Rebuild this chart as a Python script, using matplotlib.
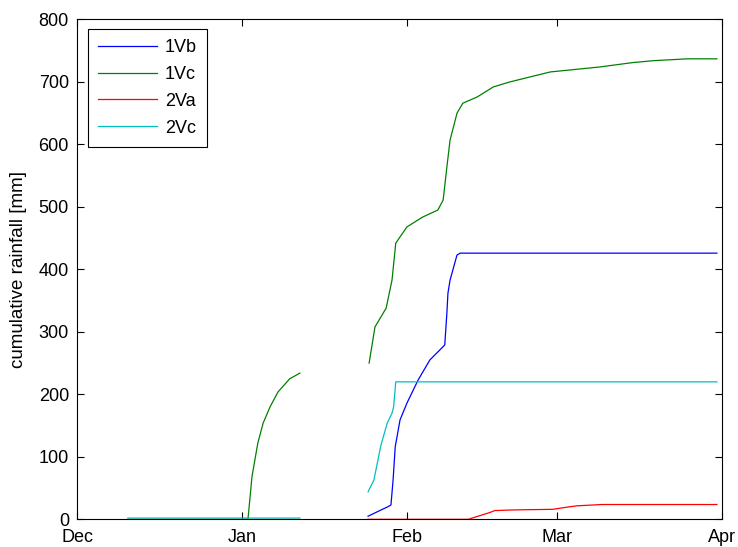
import numpy as np
import matplotlib
matplotlib.use('Agg')
import matplotlib.pyplot as plt

# days since 1 Dec, cumulative rainfall [mm]; NaN splits gaps in the record
day_1vb = [54.6, 56.8, 58.3, 58.9, 59.3, 59.7, 60.6, 61.9, 64.0, 66.2, 69.0,
           69.4, 69.6, 70.0, 71.3, 71.9, 120.1]
rain_1vb = [5, 14, 20, 23, 63, 116, 159, 186, 223, 255, 279,
            330, 362, 383, 423, 426, 426]

day_1vc = [9.5, 32.05, 32.8, 33.9, 34.9, 36.2, 37.7, 39.9, 41.8, 48.0,
           54.8, 55.9, 58.0, 59.1, 59.8, 61.9, 64.9, 67.7, 68.7, 69.4, 70.0,
           71.3, 72.4, 75.1, 78.1, 81.2, 88.8, 98.1, 104.3, 108.1, 114.5, 120.1]
rain_1vc = [0, 0, 68, 122, 154, 180, 204, 225, 234, np.nan,
            250, 308, 338, 383, 442, 468, 484, 495, 511, 564, 607,
            650, 666, 676, 692, 700, 716, 724, 731, 734, 737, 737]

day_2va = [54.6, 73.4, 77.5, 78.4, 81.6, 89.3, 91.6, 93.8, 98.5, 120.1]
rain_2va = [0, 0, 11, 14, 15, 16, 19, 21.6, 23.7, 23.7]

day_2vc = [9.5, 41.8, 48.0, 54.6, 55.7, 57.0, 58.2, 59.1, 59.4, 59.8, 120.1]
rain_2vc = [2, 2, np.nan, 44, 63, 118, 154, 170, 180, 220, 220]

month_days = [0, 31, 62, 90, 121]
month_labels = ['Dec', 'Jan', 'Feb', 'Mar', 'Apr']

plt.rcParams['font.family'] = ['Liberation Sans', 'DejaVu Sans']

fig = plt.figure(figsize=(7.38, 5.47), dpi=100)
ax = fig.add_axes([0.1047, 0.0506, 0.8732, 0.9138])

ax.plot(day_1vb, rain_1vb, color=(0, 0, 1), lw=0.9, label='1Vb')
ax.plot(day_1vc, rain_1vc, color=(0, 0.5, 0), lw=0.9, label='1Vc')
ax.plot(day_2va, rain_2va, color=(1, 0, 0), lw=0.9, label='2Va')
ax.plot(day_2vc, rain_2vc, color=(0, 0.75, 0.75), lw=0.9, label='2Vc')

ax.set_xlim(0, 121)
ax.set_ylim(0, 800)
ax.set_xticks(month_days)
ax.set_xticklabels(month_labels)
ax.set_yticks(range(0, 801, 100))
ax.tick_params(direction='in', top=True, right=True, length=5, width=0.8,
               labelsize=13)
ax.tick_params(axis='y', pad=6)
ax.tick_params(axis='x', pad=7)
for s in ax.spines.values():
    s.set_linewidth(0.8)
ax.set_ylabel('cumulative rainfall [mm]', fontsize=13.5, labelpad=8)

leg = ax.legend(loc='upper left', bbox_to_anchor=(0.1192, 0.947),
                bbox_transform=fig.transFigure, borderaxespad=0,
                fancybox=False, framealpha=1, edgecolor='black',
                fontsize=13, handlelength=3.3, labelspacing=0.55,
                handletextpad=0.4, borderpad=0.55)
leg.get_frame().set_linewidth(0.8)

fig.savefig('out.png', dpi=100)
